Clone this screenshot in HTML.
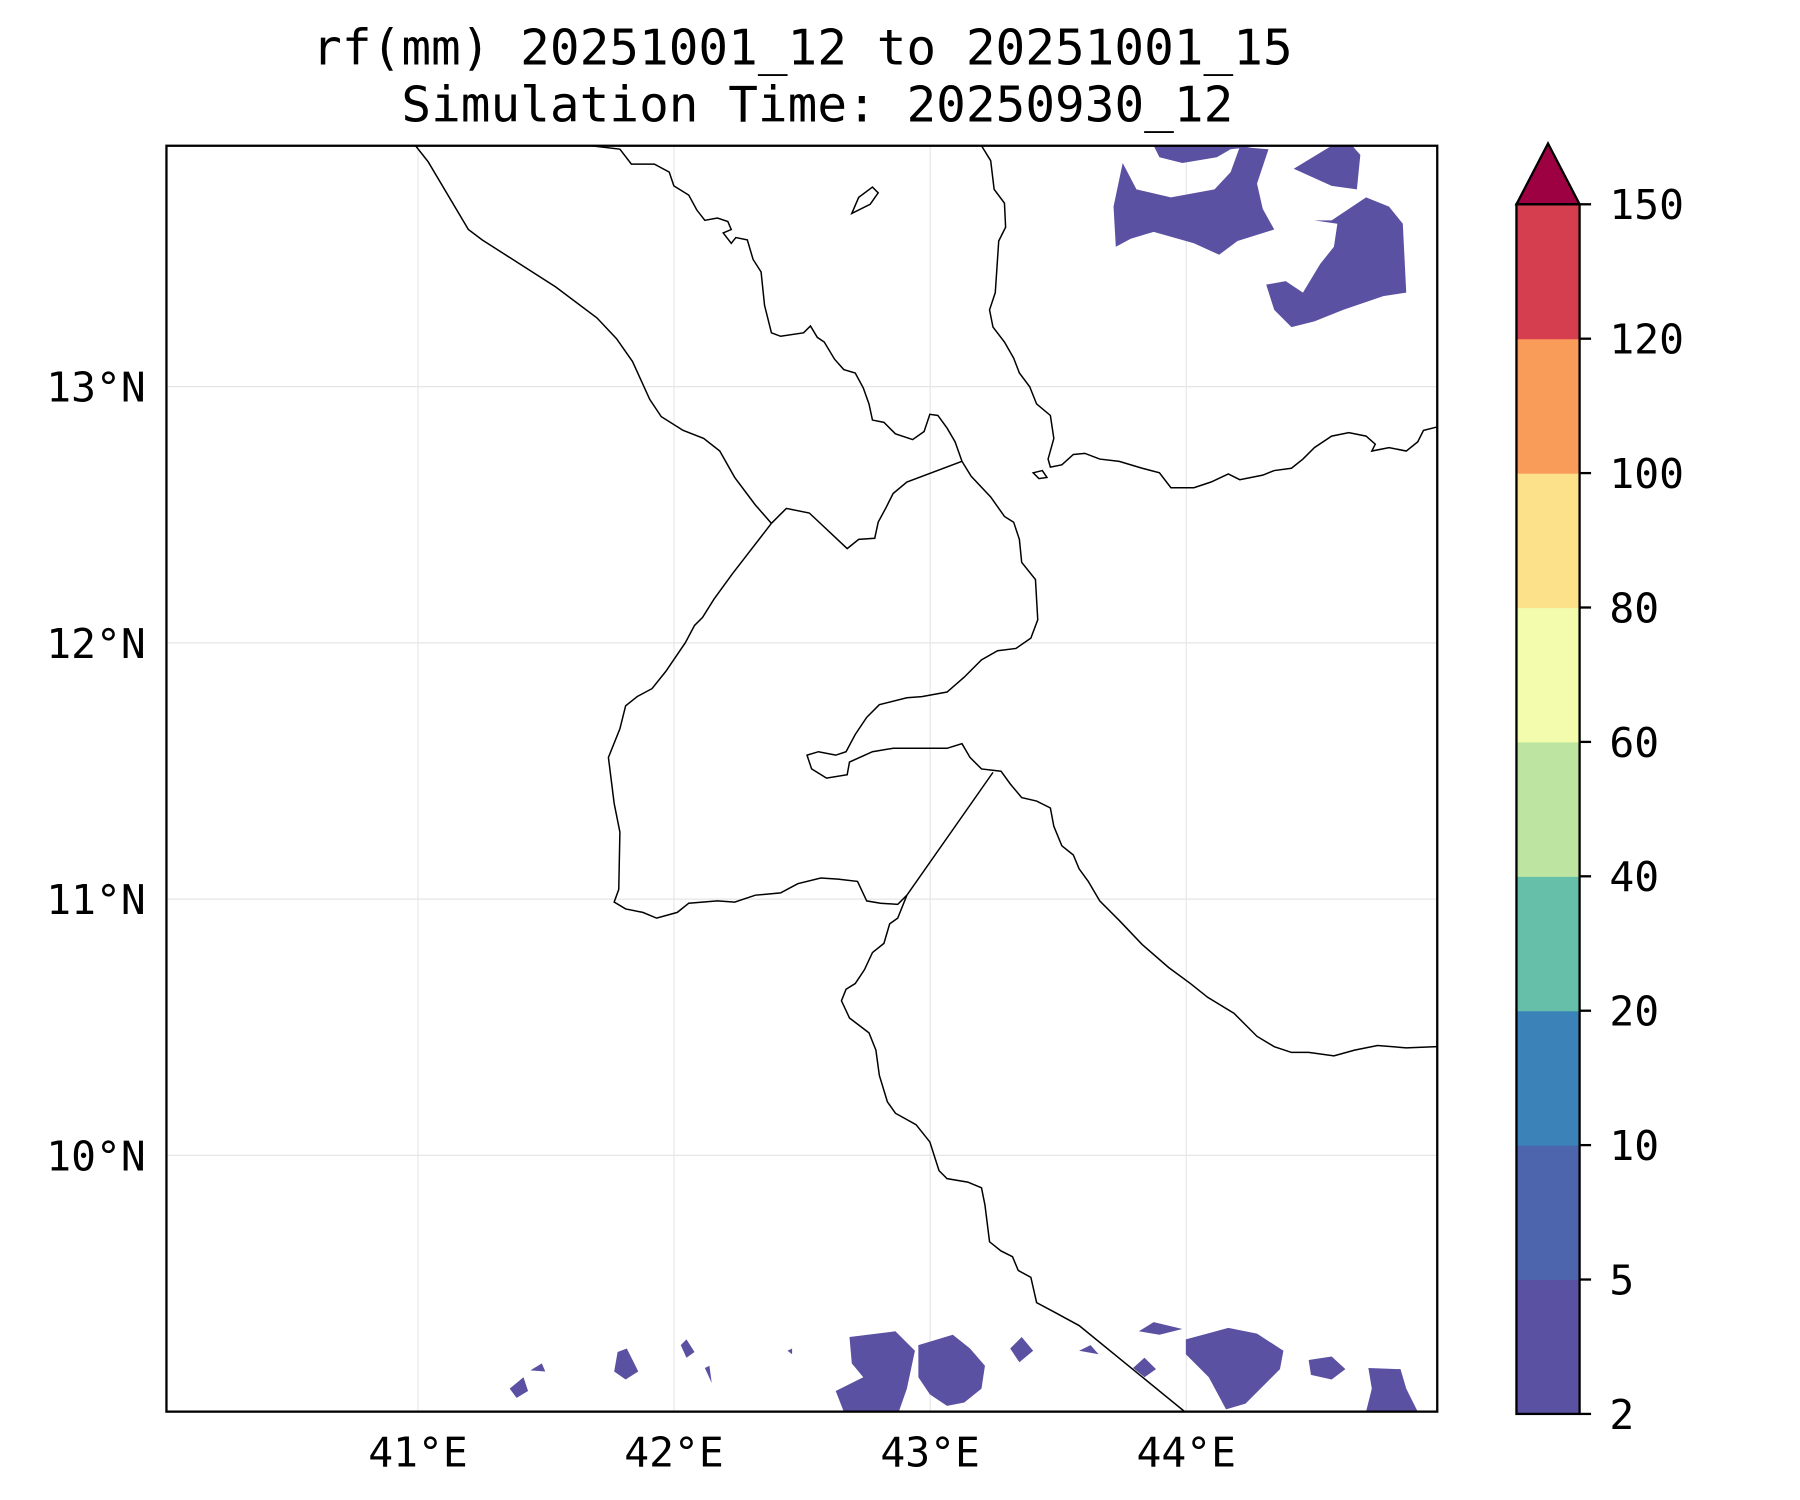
<!DOCTYPE html>
<html><head><meta charset="utf-8"><style>
html,body{margin:0;padding:0;background:#fff;}
svg{display:block;}
text{font-family:"DejaVu Sans Mono","Liberation Mono",monospace;fill:#000;}
</style></head><body>
<svg id="chart" width="1800" height="1500" viewBox="0 0 1568 1307" preserveAspectRatio="none" xmlns="http://www.w3.org/2000/svg">
<text x="699" y="56" font-size="43" text-anchor="middle">rf(mm) 20251001_12 to 20251001_15</text>
<text x="712" y="106" font-size="43" text-anchor="middle">Simulation Time: 20250930_12</text>
<g id="grid"></g>
<g id="rain" fill="#5a51a2" stroke="none">
<path d="M1005,127 L1010,137 L1030,142 L1060,137 L1072,130 L1100,127Z"/>
<path d="M978,142 L970,180 L972,215 L985,208 L1005,202 L1040,212 L1062,222 L1078,210 L1110,200 L1100,182 L1095,160 L1105,130 L1080,128 L1072,150 L1058,165 L1020,172 L990,165Z"/>
<path d="M1127,147 L1160,162 L1182,165 L1185,135 L1178,127 L1160,127Z"/>
<path d="M1145,192 L1160,192 L1190,172 L1210,180 L1222,195 L1225,255 L1205,258 L1170,270 L1145,280 L1125,285 L1110,270 L1103,248 L1120,245 L1135,255 L1150,230 L1162,215 L1165,195Z"/>
<path d="M444,1210 L456,1200 L460,1212 L450,1218Z M462,1194 L472,1188 L475,1195Z M538,1178 L546,1175 L556,1195 L545,1202 L535,1195Z M593,1172 L598,1167 L605,1178 L598,1183Z M614,1192 L618,1190 L620,1205Z M686,1177 L690,1175 L690,1180Z M740,1165 L780,1160 L797,1177 L790,1210 L783,1230 L735,1230 L728,1212 L752,1200 L742,1188Z M800,1172 L830,1163 L845,1175 L858,1190 L855,1210 L840,1222 L825,1225 L810,1215 L800,1200Z M880,1175 L890,1165 L900,1177 L888,1187Z M940,1177 L950,1172 L957,1180Z M987,1192 L997,1183 L1007,1193 L997,1200Z M992,1160 L1005,1152 L1030,1158 L1010,1163Z M1033,1167 L1048,1163 L1070,1157 L1095,1162 L1118,1177 L1115,1193 L1085,1223 L1068,1228 L1053,1200 L1033,1180Z M1140,1185 L1160,1182 L1172,1193 L1160,1202 L1142,1198Z M1192,1192 L1220,1193 L1225,1210 L1235,1230 L1190,1230 L1195,1210Z"/>
</g>
<g fill="none" stroke="#000" stroke-width="1.3">
<polyline points="362,127 373,141 408,200 420,209 484,250 520,277 537,295 551,315 566,348 576,363 595,375 613,382 627,393 640,416 658,440 672,456"/>
<polyline points="672,456 685,443 705,447 738,478 748,470 762,469 765,455 772,442 778,430 790,420 838,402"/>
<polyline points="515,127 540,130 550,143 570,143 583,150 587,162 600,170 607,183 614,192 625,190 634,193 637,200 630,203 637,212 641,207 651,209 656,226 663,237 666,266 672,290 680,293 700,290 706,284 712,294 718,298 727,313 735,322 745,325 752,338 757,352 760,366 770,368 780,378 795,383 805,376 810,361 817,362 825,373 832,385 838,402 846,415 863,433 875,450 883,455 888,470 890,490 902,505 904,540 898,556 885,565 869,567 855,575 840,590 825,603 803,607 790,608 766,614 755,625 745,640 737,655 728,658 713,655 703,658 707,670 720,678 738,675 740,664 760,655 778,652 825,652 838,648 845,660 855,670 872,672 880,683 890,695 903,698 915,704 918,720 925,737 935,745 940,757 948,768 958,785 975,802 995,823 1018,843 1037,857 1052,869 1075,883 1095,903 1110,912 1125,917 1140,917 1162,920 1180,915 1200,911 1225,913 1252,912"/>
<polyline points="865,673 790,780 782,800 775,805 770,822 760,830 753,845 745,857 737,862 733,872 740,887 757,900 763,915 766,937 773,960 780,970 798,980 810,995 818,1020 825,1027 843,1030 855,1035 858,1050 862,1082 872,1090 882,1095 887,1107 898,1113 903,1135 918,1143 940,1155 1032,1230"/>
<polyline points="672,456 655,478 638,500 622,522 612,538 605,545 597,560 580,585 568,600 555,607 545,615 540,635 530,660 535,700 540,725 539,775 535,786 545,792 560,795 572,800 590,795 600,787 625,785 640,786 658,780 680,778 695,770 715,765 730,766 747,768 755,785 767,787 782,788 790,780"/>
<polyline points="855,127 863,140 866,165 875,177 876,198 870,210 867,255 862,270 865,285 875,298 883,312 888,325 897,337 903,352 915,362 918,382 913,400 915,407 925,405 935,396 945,395 958,400 975,402 995,408 1010,412 1020,425 1040,425 1055,420 1070,413 1080,418 1100,414 1110,410 1125,408 1135,400 1145,390 1160,380 1175,377 1190,380 1198,387 1195,393 1210,390 1225,393 1235,385 1240,375 1252,372"/>
<path d="M742,186 L748,172 L760,163 L765,168 L758,178 Z"/>
<path d="M900,412 L908,410 L912,416 L905,417 Z"/>
</g>
<rect x="145" y="127" width="1107" height="1103" fill="none" stroke="#000" stroke-width="2"/>
<g id="axes"></g>
<g id="cbar"></g>
<script>
const lonTicks=[41,42,43,44];
const latTicks=[13,12,11,10];
const cbarLevels=[2,5,10,20,40,60,80,100,120,150];
const cbarColors=["#5a51a2","#4d65ad","#3a82b8","#65bfa9","#bde4a0","#f3fbad","#fce08a","#f99c5a","#d53e4f"];
const extendColor="#9e0142";
const NS="http://www.w3.org/2000/svg";
const X0=145,X1=1252,Y0=127,Y1=1230,LON0=40.018,LON1=44.98,LAT0=13.94,LAT1=9.0;
const xs=l=>X0+(l-LON0)/(LON1-LON0)*(X1-X0);
const ys=l=>Y0+(LAT0-l)/(LAT0-LAT1)*(Y1-Y0);
function mk(t,a,p){const e=document.createElementNS(NS,t);for(const k in a)e.setAttribute(k,a[k]);p.appendChild(e);return e;}
const grid=document.getElementById('grid'),axes=document.getElementById('axes'),cb=document.getElementById('cbar');
lonTicks.forEach(l=>{const x=xs(l);
 const g=mk('line',{x1:x,x2:x,y1:Y0,y2:Y1,stroke:'#e6e6e6','stroke-width':1},grid);
 
 
 const t=mk('text',{x:x,y:1278,'font-size':36,'text-anchor':'middle'},axes);t.textContent=l+'°E';
 
 
});
latTicks.forEach(l=>{const y=ys(l);
 const g=mk('line',{x1:X0,x2:X1,y1:y,y2:y,stroke:'#e6e6e6','stroke-width':1},grid);
 
 
 const t=mk('text',{x:127,y:y+13,'font-size':36,'text-anchor':'end'},axes);t.textContent=l+'°N';
 
 
});
const CX0=1321,CX1=1376,CB=1232,CT=178,n=cbarLevels.length-1,h=(CB-CT)/n;
const cy=i=>CB-i*h;
cbarColors.forEach((c,i)=>{
 const r=mk('rect',{x:CX0,y:cy(i+1),width:CX1-CX0,height:h+0.5,fill:c},cb);
 
 
});
const tri=mk('polygon',{points:`${CX0},${CT} ${(CX0+CX1)/2},${CT-53} ${CX1},${CT}`,fill:extendColor,stroke:'#000','stroke-width':2},cb);


const fr=mk('rect',{x:CX0,y:CT,width:CX1-CX0,height:CB-CT,fill:'none',stroke:'#000','stroke-width':2},cb);


cbarLevels.forEach((v,i)=>{const y=cy(i);
 const tk=mk('line',{x1:CX1,x2:CX1+10,y1:y,y2:y,stroke:'#000','stroke-width':2},cb);
 
 
 const t=mk('text',{x:1402,y:y+13,'font-size':36},cb);t.textContent=v;
 
 
});
</script>
</svg>
</body></html>
